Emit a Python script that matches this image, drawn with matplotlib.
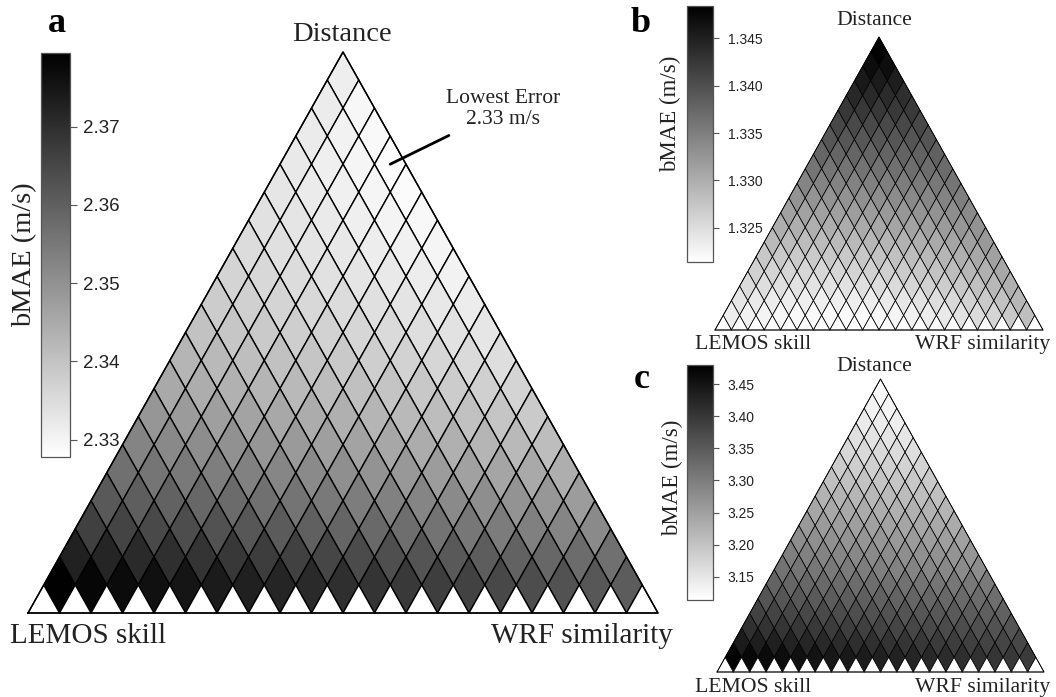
import numpy as np
import matplotlib.pyplot as plt
from matplotlib.collections import PolyCollection
from matplotlib.colors import Normalize
from matplotlib.cm import ScalarMappable
from matplotlib.ticker import FormatStrFormatter

plt.rcParams['font.family'] = 'Liberation Serif'

W, H = 1056, 697
n_div = 20

# bMAE (m/s) per rhombus, one list per row from the apex down, left to right
bmae_a = [
    [2.3314],
    [2.3317, 2.3296],
    [2.3319, 2.3305, 2.3291],
    [2.3324, 2.3311, 2.3299, 2.3286],
    [2.3330, 2.3320, 2.3309, 2.3299, 2.3288],
    [2.3340, 2.3331, 2.3321, 2.3312, 2.3302, 2.3293],
    [2.3350, 2.3342, 2.3333, 2.3325, 2.3316, 2.3308, 2.3299],
    [2.3366, 2.3357, 2.3349, 2.3340, 2.3332, 2.3323, 2.3315, 2.3306],
    [2.3381, 2.3373, 2.3365, 2.3357, 2.3349, 2.3341, 2.3333, 2.3325, 2.3317],
    [2.3402, 2.3394, 2.3386, 2.3378, 2.3370, 2.3362, 2.3354, 2.3346, 2.3338, 2.3330],
    [2.3428, 2.3420, 2.3411, 2.3403, 2.3395, 2.3387, 2.3378, 2.3370, 2.3362, 2.3353, 2.3345],
    [2.3453, 2.3445, 2.3437, 2.3429, 2.3421, 2.3413, 2.3406, 2.3398, 2.3390, 2.3382, 2.3374, 2.3366],
    [2.3490, 2.3481, 2.3473, 2.3464, 2.3455, 2.3447, 2.3438, 2.3429, 2.3421, 2.3412, 2.3403, 2.3395, 2.3386],
    [2.3526, 2.3517, 2.3508, 2.3500, 2.3491, 2.3482, 2.3473, 2.3465, 2.3456, 2.3447, 2.3438, 2.3429, 2.3421, 2.3412],
    [2.3567, 2.3558, 2.3549, 2.3540, 2.3532, 2.3523, 2.3514, 2.3505, 2.3496, 2.3487, 2.3478, 2.3469, 2.3461, 2.3452, 2.3443],
    [2.3613, 2.3604, 2.3595, 2.3586, 2.3577, 2.3568, 2.3559, 2.3550, 2.3542, 2.3533, 2.3524, 2.3515, 2.3506, 2.3497, 2.3488, 2.3479],
    [2.3665, 2.3656, 2.3646, 2.3637, 2.3628, 2.3618, 2.3609, 2.3599, 2.3590, 2.3581, 2.3571, 2.3562, 2.3553, 2.3543, 2.3534, 2.3524, 2.3515],
    [2.3727, 2.3718, 2.3708, 2.3699, 2.3689, 2.3680, 2.3671, 2.3661, 2.3652, 2.3642, 2.3633, 2.3624, 2.3614, 2.3605, 2.3595, 2.3586, 2.3576, 2.3567],
    [2.3790, 2.3780, 2.3770, 2.3760, 2.3750, 2.3739, 2.3729, 2.3719, 2.3709, 2.3699, 2.3689, 2.3679, 2.3669, 2.3659, 2.3648, 2.3638, 2.3628, 2.3618, 2.3608],
]

bmae_b = [
    [1.3480],
    [1.3470, 1.3469],
    [1.3457, 1.3455, 1.3452],
    [1.3441, 1.3440, 1.3438, 1.3435],
    [1.3425, 1.3424, 1.3424, 1.3423, 1.3422],
    [1.3408, 1.3407, 1.3407, 1.3407, 1.3408, 1.3408],
    [1.3392, 1.3392, 1.3392, 1.3393, 1.3393, 1.3394, 1.3395],
    [1.3376, 1.3376, 1.3377, 1.3377, 1.3378, 1.3379, 1.3380, 1.3381],
    [1.3360, 1.3360, 1.3361, 1.3362, 1.3363, 1.3365, 1.3367, 1.3369, 1.3371],
    [1.3344, 1.3344, 1.3345, 1.3346, 1.3348, 1.3350, 1.3352, 1.3355, 1.3357, 1.3360],
    [1.3327, 1.3327, 1.3328, 1.3330, 1.3332, 1.3334, 1.3336, 1.3339, 1.3342, 1.3345, 1.3349],
    [1.3314, 1.3313, 1.3314, 1.3315, 1.3317, 1.3319, 1.3321, 1.3324, 1.3327, 1.3330, 1.3334, 1.3338],
    [1.3300, 1.3299, 1.3299, 1.3300, 1.3302, 1.3304, 1.3306, 1.3309, 1.3312, 1.3316, 1.3320, 1.3325, 1.3330],
    [1.3287, 1.3285, 1.3284, 1.3285, 1.3286, 1.3288, 1.3290, 1.3293, 1.3296, 1.3300, 1.3304, 1.3309, 1.3315, 1.3322],
    [1.3273, 1.3271, 1.3270, 1.3270, 1.3271, 1.3272, 1.3274, 1.3277, 1.3280, 1.3284, 1.3288, 1.3293, 1.3299, 1.3306, 1.3314],
    [1.3263, 1.3260, 1.3258, 1.3257, 1.3257, 1.3258, 1.3260, 1.3262, 1.3265, 1.3269, 1.3273, 1.3278, 1.3284, 1.3290, 1.3298, 1.3306],
    [1.3252, 1.3249, 1.3247, 1.3245, 1.3244, 1.3244, 1.3245, 1.3247, 1.3250, 1.3253, 1.3257, 1.3262, 1.3267, 1.3273, 1.3280, 1.3289, 1.3298],
    [1.3241, 1.3238, 1.3235, 1.3233, 1.3232, 1.3231, 1.3231, 1.3232, 1.3234, 1.3237, 1.3240, 1.3244, 1.3249, 1.3255, 1.3262, 1.3270, 1.3279, 1.3290],
    [1.3233, 1.3229, 1.3226, 1.3223, 1.3221, 1.3220, 1.3219, 1.3219, 1.3220, 1.3222, 1.3225, 1.3229, 1.3233, 1.3238, 1.3244, 1.3251, 1.3259, 1.3270, 1.3282],
]

bmae_c = [
    [3.121],
    [3.132, 3.128],
    [3.143, 3.141, 3.139],
    [3.158, 3.155, 3.153, 3.150],
    [3.172, 3.169, 3.167, 3.164, 3.161],
    [3.187, 3.185, 3.183, 3.180, 3.178, 3.176],
    [3.205, 3.203, 3.200, 3.198, 3.196, 3.193, 3.191],
    [3.224, 3.221, 3.219, 3.216, 3.213, 3.210, 3.208, 3.205],
    [3.242, 3.239, 3.237, 3.234, 3.231, 3.228, 3.226, 3.223, 3.220],
    [3.260, 3.257, 3.254, 3.252, 3.249, 3.246, 3.243, 3.240, 3.238, 3.235],
    [3.278, 3.275, 3.272, 3.269, 3.266, 3.264, 3.261, 3.258, 3.255, 3.252, 3.249],
    [3.297, 3.294, 3.291, 3.288, 3.285, 3.282, 3.279, 3.276, 3.273, 3.270, 3.267, 3.264],
    [3.315, 3.312, 3.309, 3.306, 3.303, 3.300, 3.297, 3.293, 3.290, 3.287, 3.284, 3.281, 3.278],
    [3.337, 3.334, 3.332, 3.329, 3.327, 3.324, 3.322, 3.319, 3.317, 3.314, 3.312, 3.309, 3.307, 3.304],
    [3.359, 3.356, 3.354, 3.351, 3.348, 3.346, 3.343, 3.340, 3.338, 3.335, 3.333, 3.330, 3.327, 3.325, 3.322],
    [3.385, 3.382, 3.379, 3.376, 3.373, 3.370, 3.367, 3.364, 3.362, 3.359, 3.356, 3.353, 3.350, 3.347, 3.344, 3.341],
    [3.410, 3.407, 3.404, 3.400, 3.397, 3.394, 3.391, 3.388, 3.384, 3.381, 3.378, 3.375, 3.372, 3.369, 3.365, 3.362, 3.359],
    [3.440, 3.436, 3.433, 3.429, 3.425, 3.421, 3.418, 3.414, 3.410, 3.407, 3.403, 3.399, 3.395, 3.392, 3.388, 3.384, 3.381, 3.377],
    [3.473, 3.469, 3.464, 3.460, 3.456, 3.452, 3.447, 3.443, 3.439, 3.434, 3.430, 3.426, 3.422, 3.417, 3.413, 3.409, 3.404, 3.400, 3.396],
]

ticks_a = [2.33, 2.34, 2.35, 2.36, 2.37]
ticks_b = [1.325, 1.330, 1.335, 1.340, 1.345]
ticks_c = [3.15, 3.20, 3.25, 3.30, 3.35, 3.40, 3.45]
range_a = (2.3278, 2.3794)
range_b = (1.3214, 1.3484)
range_c = (3.1136, 3.4800)

corner_labels = ('Distance', 'LEMOS skill', 'WRF similarity')
cbar_label = 'bMAE (m/s)'


def ternary_xy(w, l):
    d = 1.0 - w - l
    return w + 0.5 * d, d


def build_cells(values):
    polys, vals, centres = [], [], []
    for r, row in enumerate(values):
        for i, v in enumerate(row):
            j = r - i
            corners = [(i, j), (i + 1, j), (i + 1, j + 1), (i, j + 1)]
            polys.append([ternary_xy(a / n_div, b / n_div) for a, b in corners])
            vals.append(v)
            centres.append(ternary_xy((i + 0.5) / n_div, (j + 0.5) / n_div))
    tris = []
    for i in range(n_div):
        j = n_div - 1 - i
        corners = [(i, j), (i + 1, j), (i, j + 1)]
        tris.append([ternary_xy(a / n_div, b / n_div) for a, b in corners])
    return polys, np.array(vals), centres, tris


def px_axes(x0, y0, x1, y1):
    return fig.add_axes([x0 / W, 1 - y1 / H, (x1 - x0) / W, (y1 - y0) / H])


def ftext(x, y, s, **kw):
    fig.text(x / W, 1 - y / H, s, ha='center', va='baseline', **kw)


def panel(values, vrange, tri_box, cbar_box, ticks, fmt, lw, tick_fs, tick_len, tick_pad,
          clab_fs, clab_xy):
    ax = px_axes(*tri_box)
    ax.set_xlim(0, 1)
    ax.set_ylim(0, 1)
    ax.axis('off')
    norm = Normalize(*vrange)
    polys, vals, centres, tris = build_cells(values)
    pc = PolyCollection(polys, array=vals, cmap='gray_r', norm=norm,
                        edgecolors='black', linewidths=lw, clip_on=False)
    ax.add_collection(pc)
    tc = PolyCollection(tris, facecolors='white', edgecolors='black',
                        linewidths=lw, clip_on=False)
    ax.add_collection(tc)
    ax.plot([0, 1, 0.5, 0], [0, 0, 1, 0], color='black', lw=lw, clip_on=False)

    cax = px_axes(*cbar_box)
    cb = fig.colorbar(ScalarMappable(norm=norm, cmap='gray_r'), cax=cax, ticks=ticks)
    cb.outline.set_edgecolor('#555555')
    cb.outline.set_linewidth(0.9)
    cax.yaxis.set_major_formatter(FormatStrFormatter(fmt))
    cax.tick_params(labelsize=tick_fs, length=tick_len, width=0.8, color='#555555',
                    pad=tick_pad, labelfontfamily='Liberation Sans', labelcolor='#222222')
    cax.text(clab_xy[0], clab_xy[1], cbar_label, transform=cax.transAxes,
             rotation=90, ha='center', va='center', fontsize=clab_fs, color='#222222')
    return ax, vals, centres


fig = plt.figure(figsize=(W / 100, H / 100), dpi=100)

# panel a
ax_a, vals_a, centres_a = panel(bmae_a, range_a, (28, 52, 658, 613), (41, 53, 70, 457),
                                ticks_a, '%.2f', 1.0, 13.5, 5, 4, 20.5, (-0.55, 0.5))
ftext(342, 41, corner_labels[0], fontsize=20.5, color='#222222')
ftext(88, 643, corner_labels[1], fontsize=21, color='#222222')
ftext(582, 643, corner_labels[2], fontsize=21, color='#222222')
ftext(57, 32, 'a', fontsize=26, fontweight='bold')
k_min = int(np.argmin(vals_a))
ax_a.annotate('Lowest Error\n%.2f m/s' % vals_a[k_min], xy=centres_a[k_min],
              xytext=(503 / W, 1 - 109 / H), textcoords='figure fraction',
              ha='center', va='center', fontsize=15.5, color='#222222', linespacing=1.15,
              arrowprops=dict(arrowstyle='-', lw=2.0, color='black', shrinkA=-6, shrinkB=0))

# panel b
panel(bmae_b, range_b, (715, 37, 1043, 330), (687, 6, 713, 262),
      ticks_b, '%.3f', 0.55, 10, 4.5, 6, 16.5, (-0.62, 0.58))
ftext(874, 25, corner_labels[0], fontsize=15.6, color='#222222')
ftext(753, 349, corner_labels[1], fontsize=15.6, color='#222222')
ftext(983, 349, corner_labels[2], fontsize=15.6, color='#222222')
ftext(641, 32, 'b', fontsize=26, fontweight='bold')

# panel c
panel(bmae_c, range_c, (717, 379, 1044, 672), (687, 365, 713, 600),
      ticks_c, '%.2f', 0.55, 10, 4.5, 6, 16.5, (-0.56, 0.52))
ftext(874, 371, corner_labels[0], fontsize=15.6, color='#222222')
ftext(753, 692, corner_labels[1], fontsize=15.6, color='#222222')
ftext(983, 692, corner_labels[2], fontsize=15.6, color='#222222')
ftext(642, 388, 'c', fontsize=26, fontweight='bold')

fig.savefig('out.png', dpi=100)
